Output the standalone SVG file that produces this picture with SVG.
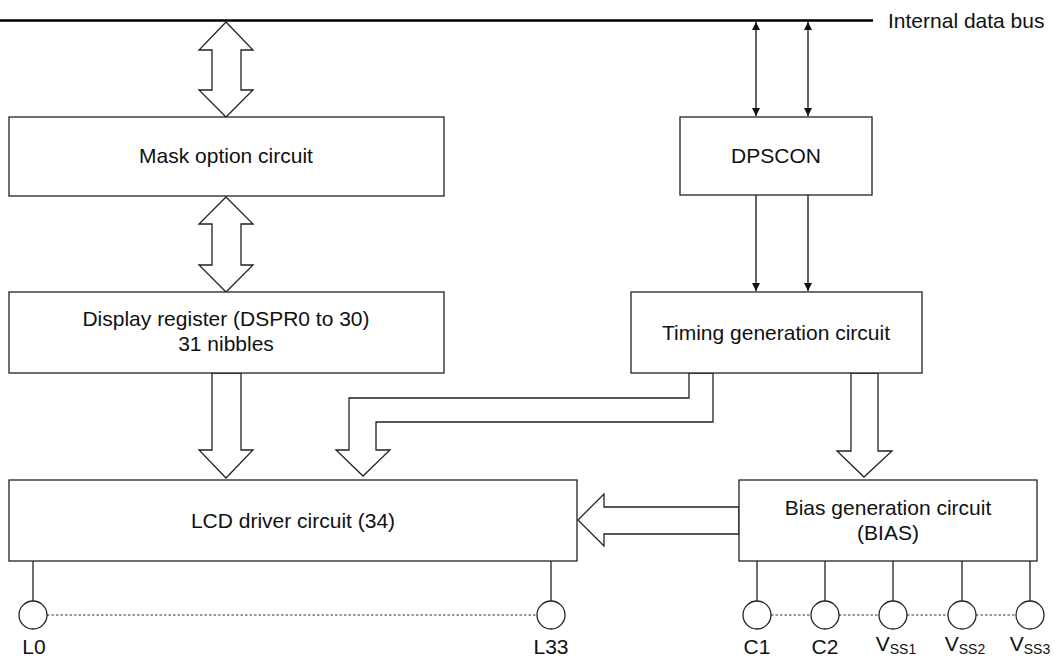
<svg xmlns="http://www.w3.org/2000/svg" width="1059" height="656" viewBox="0 0 1059 656">
<defs>
<style>
.box{fill:#fff;stroke:#222;stroke-width:1.3}
.arr{fill:#fff;stroke:#222;stroke-width:1.3;stroke-linejoin:miter}
.ln{stroke:#222;stroke-width:1.3;fill:none}
.thin{stroke:#111;stroke-width:1.3;fill:none}
.dot{stroke:#333;stroke-width:1.2;stroke-dasharray:2.5 2;fill:none}
.pin{fill:#fff;stroke:#222;stroke-width:1.3}
text{font-family:"Liberation Sans",Arial,sans-serif;font-size:21px;fill:#111}
.c{text-anchor:middle}
.sub{font-size:14px}
</style>
<marker id="ahl" viewBox="0 0 10 10" refX="10" refY="5" markerWidth="14" markerHeight="8" markerUnits="userSpaceOnUse" orient="auto-start-reverse">
<path d="M0,0 L10,5 L0,10 z" fill="#111"/>
</marker>
</defs>
<g id="bus">
<line x1="0" y1="20.5" x2="873" y2="20.5" stroke="#000" stroke-width="2.5"/>
<text x="888" y="28">Internal data bus</text>
</g>
<g id="connectors">
<polygon class="arr" points="226,22 253,50 241,50 241,90 253,90 226,117 199,90 212,90 212,50 199,50"/>
<polygon class="arr" points="226,197 253,224 241,224 241,265 253,265 226,292 199,265 212,265 212,224 199,224"/>
<polygon class="arr" points="212,373 241,373 241,450 253,450 226,478 199,450 212,450"/>
<polygon class="arr" points="851,373 878,373 878,451 892,451 864,477 837,451 851,451"/>
<polygon class="arr" points="689,373 689,398 349,398 349,450 336,450 363,476 390,450 376,450 376,422 713,422 713,373"/>
<polygon class="arr" points="739,507 604,507 604,494 578,520 604,546 604,534 739,534"/>
<line class="thin" x1="756" y1="22" x2="756" y2="116" marker-start="url(#ahl)" marker-end="url(#ahl)"/>
<line class="thin" x1="808" y1="22" x2="808" y2="116" marker-start="url(#ahl)" marker-end="url(#ahl)"/>
<line class="thin" x1="756" y1="195" x2="756" y2="291" marker-end="url(#ahl)"/>
<line class="thin" x1="808" y1="195" x2="808" y2="291" marker-end="url(#ahl)"/>
<line class="ln" x1="33" y1="561" x2="33" y2="601"/>
<line class="ln" x1="551" y1="561" x2="551" y2="601"/>
<line class="ln" x1="757" y1="561" x2="757" y2="601"/>
<line class="ln" x1="825" y1="561" x2="825" y2="601"/>
<line class="ln" x1="893" y1="561" x2="893" y2="601"/>
<line class="ln" x1="962" y1="561" x2="962" y2="601"/>
<line class="ln" x1="1030" y1="561" x2="1030" y2="601"/>
<line class="dot" x1="47" y1="615" x2="537" y2="615"/>
<line class="dot" x1="771" y1="615" x2="811" y2="615"/>
<line class="dot" x1="839" y1="615" x2="879" y2="615"/>
<line class="dot" x1="907" y1="615" x2="948" y2="615"/>
<line class="dot" x1="976" y1="615" x2="1016" y2="615"/>
</g>
<g id="mask">
<rect class="box" x="9" y="117" width="435" height="79"/>
<text class="c" x="226" y="163">Mask option circuit</text>
</g>
<g id="dpscon">
<rect class="box" x="680" y="117" width="192" height="78"/>
<text class="c" x="776" y="163">DPSCON</text>
</g>
<g id="display">
<rect class="box" x="9" y="292" width="435" height="81"/>
<text class="c" x="226" y="326">Display register (DSPR0 to 30)</text>
<text class="c" x="226" y="351">31 nibbles</text>
</g>
<g id="timing">
<rect class="box" x="631" y="292" width="291" height="81"/>
<text class="c" x="776" y="340">Timing generation circuit</text>
</g>
<g id="lcd">
<rect class="box" x="9" y="480" width="568" height="81"/>
<text class="c" x="293" y="528">LCD driver circuit (34)</text>
</g>
<g id="bias">
<rect class="box" x="739" y="480" width="298" height="81"/>
<text class="c" x="888" y="515">Bias generation circuit</text>
<text class="c" x="888" y="540">(BIAS)</text>
</g>
<g id="pin-L0"><circle class="pin" cx="33" cy="615" r="14"/><text class="c" x="34" y="654">L0</text></g>
<g id="pin-L33"><circle class="pin" cx="551" cy="615" r="14"/><text class="c" x="551" y="654">L33</text></g>
<g id="pin-C1"><circle class="pin" cx="757" cy="615" r="14"/><text class="c" x="757" y="654">C1</text></g>
<g id="pin-C2"><circle class="pin" cx="825" cy="615" r="14"/><text class="c" x="825" y="654">C2</text></g>
<g id="pin-VSS1"><circle class="pin" cx="893" cy="615" r="14"/><text class="c" x="896" y="651">V<tspan class="sub" dy="3">SS1</tspan></text></g>
<g id="pin-VSS2"><circle class="pin" cx="962" cy="615" r="14"/><text class="c" x="965" y="651">V<tspan class="sub" dy="3">SS2</tspan></text></g>
<g id="pin-VSS3"><circle class="pin" cx="1030" cy="615" r="14"/><text class="c" x="1030" y="651">V<tspan class="sub" dy="3">SS3</tspan></text></g>
</svg>
